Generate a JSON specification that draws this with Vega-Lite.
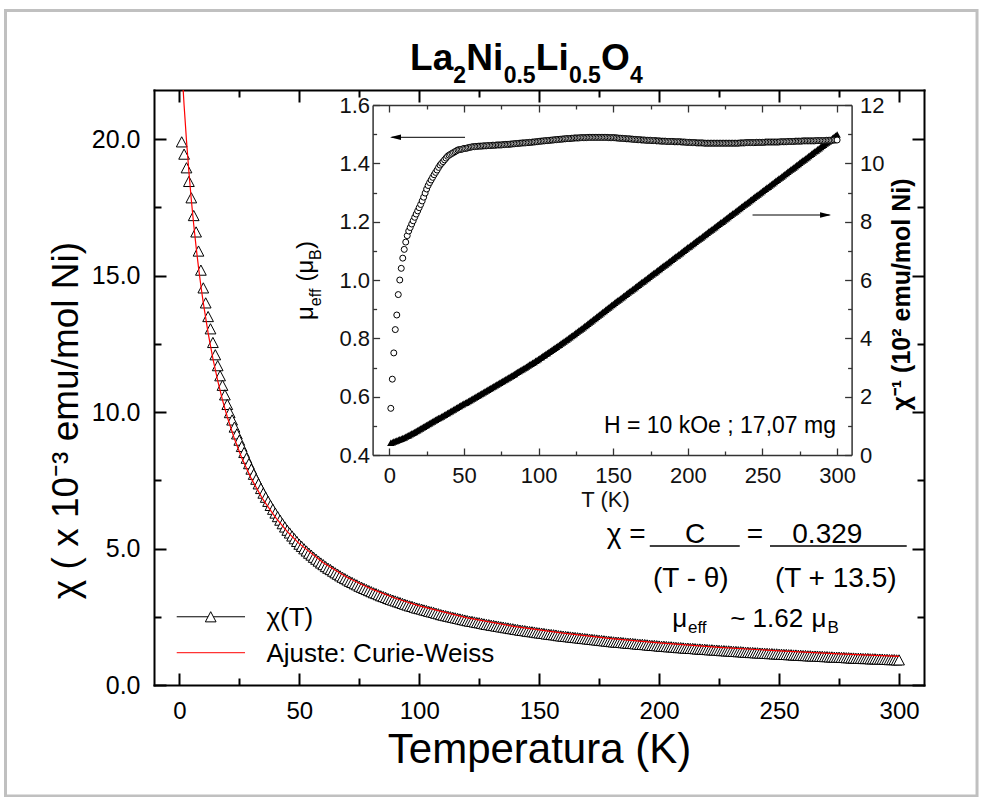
{
"$schema":"https://vega.github.io/schema/vega-lite/v6.json",
"width":770,"height":595,
"autosize":{"type":"none"},
"padding":{"left":154,"top":90,"right":58,"bottom":112},
"background":"white",
"config":{"view":{"stroke":null},"font":"Liberation Sans","text":{"font":"Liberation Sans","color":"black"}},
"datasets":{
"meas":[
{"T":1,"c":19.9,"m":0.56,"v":0.42},{"T":2,"c":19.45,"m":0.66,"v":0.44},{"T":3,"c":18.95,"m":0.75,"v":0.46},{"T":4,"c":18.45,"m":0.83,"v":0.48},{"T":5,"c":17.85,"m":0.88,"v":0.5},
{"T":6,"c":17.2,"m":0.95,"v":0.52},{"T":7,"c":16.6,"m":1.0,"v":0.54},{"T":8,"c":15.9,"m":1.04,"v":0.56},{"T":9,"c":15.2,"m":1.075,"v":0.58},{"T":10,"c":14.55,"m":1.105,"v":0.6},
{"T":11,"c":14.0,"m":1.13,"v":0.63},{"T":12,"c":13.5,"m":1.152,"v":0.66},{"T":13,"c":13.05,"m":1.168,"v":0.68},{"T":14,"c":12.55,"m":1.18,"v":0.71},{"T":15,"c":12.1,"m":1.192,"v":0.74},
{"T":16,"c":11.7,"m":1.203,"v":0.76},{"T":17,"c":11.33,"m":1.215,"v":0.79},{"T":18,"c":10.98,"m":1.226,"v":0.82},{"T":19,"c":10.63,"m":1.237,"v":0.85},{"T":20,"c":10.28,"m":1.248,"v":0.88},
{"T":21,"c":9.98,"m":1.259,"v":0.91},{"T":22,"c":9.71,"m":1.271,"v":0.94},{"T":23,"c":9.45,"m":1.284,"v":0.97},{"T":24,"c":9.2,"m":1.298,"v":1.0},{"T":25,"c":8.97,"m":1.312,"v":1.03},
{"T":26,"c":8.74,"m":1.324,"v":1.06},{"T":27,"c":8.52,"m":1.334,"v":1.09},{"T":28,"c":8.31,"m":1.343,"v":1.12},{"T":29,"c":8.11,"m":1.352,"v":1.15},{"T":30,"c":7.91,"m":1.361,"v":1.18},
{"T":31,"c":7.72,"m":1.369,"v":1.21},{"T":32,"c":7.54,"m":1.377,"v":1.24},{"T":33,"c":7.37,"m":1.386,"v":1.27},{"T":34,"c":7.2,"m":1.394,"v":1.29},{"T":35,"c":7.03,"m":1.4,"v":1.32},
{"T":36,"c":6.88,"m":1.406,"v":1.35},{"T":37,"c":6.73,"m":1.412,"v":1.38},{"T":38,"c":6.58,"m":1.418,"v":1.41},{"T":39,"c":6.44,"m":1.424,"v":1.44},{"T":40,"c":6.3,"m":1.428,"v":1.47},
{"T":41,"c":6.17,"m":1.431,"v":1.5},{"T":42,"c":6.04,"m":1.434,"v":1.53},{"T":43,"c":5.91,"m":1.437,"v":1.56},{"T":44,"c":5.79,"m":1.44,"v":1.59},{"T":45,"c":5.67,"m":1.443,"v":1.62},
{"T":46,"c":5.57,"m":1.446,"v":1.65},{"T":47,"c":5.46,"m":1.447,"v":1.68},{"T":48,"c":5.36,"m":1.448,"v":1.71},{"T":49,"c":5.26,"m":1.449,"v":1.74},{"T":50,"c":5.16,"m":1.451,"v":1.77},
{"T":51,"c":5.08,"m":1.451,"v":1.79},{"T":52,"c":4.99,"m":1.452,"v":1.82},{"T":53,"c":4.91,"m":1.454,"v":1.85},{"T":54,"c":4.83,"m":1.455,"v":1.88},{"T":55,"c":4.76,"m":1.456,"v":1.91},
{"T":56,"c":4.68,"m":1.457,"v":1.94},{"T":57,"c":4.61,"m":1.457,"v":1.97},{"T":58,"c":4.54,"m":1.458,"v":2.0},{"T":59,"c":4.47,"m":1.458,"v":2.03},{"T":60,"c":4.41,"m":1.459,"v":2.06},
{"T":61,"c":4.34,"m":1.459,"v":2.09},{"T":62,"c":4.28,"m":1.459,"v":2.12},{"T":63,"c":4.23,"m":1.46,"v":2.15},{"T":64,"c":4.17,"m":1.46,"v":2.18},{"T":65,"c":4.11,"m":1.46,"v":2.21},
{"T":66,"c":4.06,"m":1.461,"v":2.24},{"T":67,"c":4.0,"m":1.461,"v":2.27},{"T":68,"c":3.95,"m":1.461,"v":2.3},{"T":69,"c":3.9,"m":1.462,"v":2.33},{"T":70,"c":3.85,"m":1.462,"v":2.36},
{"T":71,"c":3.8,"m":1.462,"v":2.39},{"T":72,"c":3.76,"m":1.463,"v":2.42},{"T":73,"c":3.71,"m":1.463,"v":2.45},{"T":74,"c":3.67,"m":1.463,"v":2.48},{"T":75,"c":3.62,"m":1.463,"v":2.51},
{"T":76,"c":3.58,"m":1.464,"v":2.54},{"T":77,"c":3.54,"m":1.464,"v":2.57},{"T":78,"c":3.5,"m":1.465,"v":2.6},{"T":79,"c":3.46,"m":1.465,"v":2.63},{"T":80,"c":3.42,"m":1.465,"v":2.66},
{"T":81,"c":3.38,"m":1.466,"v":2.69},{"T":82,"c":3.35,"m":1.466,"v":2.72},{"T":83,"c":3.31,"m":1.467,"v":2.75},{"T":84,"c":3.27,"m":1.467,"v":2.78},{"T":85,"c":3.24,"m":1.468,"v":2.82},
{"T":86,"c":3.21,"m":1.468,"v":2.85},{"T":87,"c":3.17,"m":1.469,"v":2.88},{"T":88,"c":3.14,"m":1.469,"v":2.91},{"T":89,"c":3.11,"m":1.47,"v":2.94},{"T":90,"c":3.08,"m":1.47,"v":2.97},
{"T":91,"c":3.05,"m":1.47,"v":3.0},{"T":92,"c":3.02,"m":1.471,"v":3.03},{"T":93,"c":2.99,"m":1.471,"v":3.07},{"T":94,"c":2.96,"m":1.472,"v":3.1},{"T":95,"c":2.93,"m":1.472,"v":3.13},
{"T":96,"c":2.9,"m":1.473,"v":3.16},{"T":97,"c":2.88,"m":1.473,"v":3.19},{"T":98,"c":2.85,"m":1.474,"v":3.23},{"T":99,"c":2.82,"m":1.474,"v":3.26},{"T":100,"c":2.8,"m":1.475,"v":3.29},
{"T":101,"c":2.78,"m":1.476,"v":3.33},{"T":102,"c":2.75,"m":1.476,"v":3.36},{"T":103,"c":2.73,"m":1.477,"v":3.4},{"T":104,"c":2.7,"m":1.477,"v":3.43},{"T":105,"c":2.68,"m":1.478,"v":3.47},
{"T":106,"c":2.66,"m":1.478,"v":3.5},{"T":107,"c":2.63,"m":1.479,"v":3.54},{"T":108,"c":2.61,"m":1.479,"v":3.57},{"T":109,"c":2.58,"m":1.48,"v":3.61},{"T":110,"c":2.56,"m":1.48,"v":3.64},
{"T":111,"c":2.54,"m":1.481,"v":3.68},{"T":112,"c":2.52,"m":1.481,"v":3.71},{"T":113,"c":2.5,"m":1.482,"v":3.75},{"T":114,"c":2.48,"m":1.482,"v":3.78},{"T":115,"c":2.46,"m":1.483,"v":3.82},
{"T":116,"c":2.44,"m":1.483,"v":3.86},{"T":117,"c":2.42,"m":1.484,"v":3.89},{"T":118,"c":2.4,"m":1.484,"v":3.93},{"T":119,"c":2.38,"m":1.485,"v":3.96},{"T":120,"c":2.36,"m":1.485,"v":4.0},
{"T":121,"c":2.34,"m":1.485,"v":4.04},{"T":122,"c":2.33,"m":1.486,"v":4.08},{"T":123,"c":2.31,"m":1.486,"v":4.11},{"T":124,"c":2.29,"m":1.487,"v":4.15},{"T":125,"c":2.28,"m":1.487,"v":4.19},
{"T":126,"c":2.26,"m":1.487,"v":4.23},{"T":127,"c":2.24,"m":1.487,"v":4.27},{"T":128,"c":2.22,"m":1.488,"v":4.3},{"T":129,"c":2.21,"m":1.488,"v":4.34},{"T":130,"c":2.19,"m":1.488,"v":4.38},
{"T":131,"c":2.18,"m":1.488,"v":4.42},{"T":132,"c":2.16,"m":1.488,"v":4.46},{"T":133,"c":2.15,"m":1.489,"v":4.5},{"T":134,"c":2.13,"m":1.489,"v":4.54},{"T":135,"c":2.12,"m":1.489,"v":4.58},
{"T":136,"c":2.1,"m":1.489,"v":4.62},{"T":137,"c":2.09,"m":1.489,"v":4.66},{"T":138,"c":2.07,"m":1.489,"v":4.7},{"T":139,"c":2.06,"m":1.489,"v":4.74},{"T":140,"c":2.04,"m":1.489,"v":4.78},
{"T":141,"c":2.03,"m":1.489,"v":4.82},{"T":142,"c":2.01,"m":1.489,"v":4.86},{"T":143,"c":2.0,"m":1.489,"v":4.9},{"T":144,"c":1.99,"m":1.489,"v":4.94},{"T":145,"c":1.97,"m":1.489,"v":4.98},
{"T":146,"c":1.96,"m":1.489,"v":5.02},{"T":147,"c":1.95,"m":1.488,"v":5.06},{"T":148,"c":1.94,"m":1.488,"v":5.1},{"T":149,"c":1.92,"m":1.488,"v":5.14},{"T":150,"c":1.91,"m":1.488,"v":5.18},
{"T":151,"c":1.9,"m":1.488,"v":5.22},{"T":152,"c":1.89,"m":1.487,"v":5.26},{"T":153,"c":1.87,"m":1.487,"v":5.3},{"T":154,"c":1.86,"m":1.486,"v":5.33},{"T":155,"c":1.85,"m":1.486,"v":5.37},
{"T":156,"c":1.84,"m":1.486,"v":5.41},{"T":157,"c":1.83,"m":1.485,"v":5.45},{"T":158,"c":1.81,"m":1.485,"v":5.49},{"T":159,"c":1.8,"m":1.484,"v":5.53},{"T":160,"c":1.79,"m":1.484,"v":5.57},
{"T":161,"c":1.78,"m":1.484,"v":5.61},{"T":162,"c":1.77,"m":1.483,"v":5.64},{"T":163,"c":1.76,"m":1.483,"v":5.68},{"T":164,"c":1.75,"m":1.482,"v":5.72},{"T":165,"c":1.74,"m":1.482,"v":5.76},
{"T":166,"c":1.73,"m":1.481,"v":5.8},{"T":167,"c":1.72,"m":1.481,"v":5.84},{"T":168,"c":1.71,"m":1.481,"v":5.88},{"T":169,"c":1.7,"m":1.48,"v":5.92},{"T":170,"c":1.69,"m":1.48,"v":5.95},
{"T":171,"c":1.68,"m":1.48,"v":5.99},{"T":172,"c":1.67,"m":1.479,"v":6.03},{"T":173,"c":1.66,"m":1.479,"v":6.07},{"T":174,"c":1.65,"m":1.479,"v":6.11},{"T":175,"c":1.64,"m":1.479,"v":6.15},
{"T":176,"c":1.63,"m":1.478,"v":6.19},{"T":177,"c":1.62,"m":1.478,"v":6.23},{"T":178,"c":1.61,"m":1.478,"v":6.26},{"T":179,"c":1.6,"m":1.477,"v":6.3},{"T":180,"c":1.59,"m":1.477,"v":6.34},
{"T":181,"c":1.58,"m":1.477,"v":6.38},{"T":182,"c":1.57,"m":1.476,"v":6.42},{"T":183,"c":1.57,"m":1.476,"v":6.46},{"T":184,"c":1.56,"m":1.476,"v":6.5},{"T":185,"c":1.55,"m":1.476,"v":6.53},
{"T":186,"c":1.54,"m":1.475,"v":6.57},{"T":187,"c":1.53,"m":1.475,"v":6.61},{"T":188,"c":1.53,"m":1.475,"v":6.65},{"T":189,"c":1.52,"m":1.475,"v":6.69},{"T":190,"c":1.51,"m":1.475,"v":6.73},
{"T":191,"c":1.5,"m":1.474,"v":6.77},{"T":192,"c":1.49,"m":1.474,"v":6.81},{"T":193,"c":1.49,"m":1.474,"v":6.84},{"T":194,"c":1.48,"m":1.474,"v":6.88},{"T":195,"c":1.47,"m":1.474,"v":6.92},
{"T":196,"c":1.46,"m":1.473,"v":6.96},{"T":197,"c":1.45,"m":1.473,"v":7.0},{"T":198,"c":1.45,"m":1.473,"v":7.04},{"T":199,"c":1.44,"m":1.472,"v":7.08},{"T":200,"c":1.43,"m":1.472,"v":7.12},
{"T":201,"c":1.42,"m":1.472,"v":7.15},{"T":202,"c":1.42,"m":1.471,"v":7.19},{"T":203,"c":1.41,"m":1.471,"v":7.23},{"T":204,"c":1.4,"m":1.471,"v":7.27},{"T":205,"c":1.4,"m":1.471,"v":7.31},
{"T":206,"c":1.39,"m":1.47,"v":7.35},{"T":207,"c":1.38,"m":1.47,"v":7.39},{"T":208,"c":1.37,"m":1.47,"v":7.42},{"T":209,"c":1.37,"m":1.47,"v":7.46},{"T":210,"c":1.36,"m":1.47,"v":7.5},
{"T":211,"c":1.35,"m":1.469,"v":7.54},{"T":212,"c":1.35,"m":1.469,"v":7.58},{"T":213,"c":1.34,"m":1.469,"v":7.62},{"T":214,"c":1.34,"m":1.469,"v":7.66},{"T":215,"c":1.33,"m":1.469,"v":7.7},
{"T":216,"c":1.32,"m":1.469,"v":7.73},{"T":217,"c":1.32,"m":1.469,"v":7.77},{"T":218,"c":1.31,"m":1.469,"v":7.81},{"T":219,"c":1.31,"m":1.469,"v":7.85},{"T":220,"c":1.3,"m":1.469,"v":7.89},
{"T":221,"c":1.29,"m":1.469,"v":7.93},{"T":222,"c":1.29,"m":1.469,"v":7.97},{"T":223,"c":1.28,"m":1.469,"v":8.0},{"T":224,"c":1.28,"m":1.469,"v":8.04},{"T":225,"c":1.27,"m":1.469,"v":8.08},
{"T":226,"c":1.26,"m":1.469,"v":8.12},{"T":227,"c":1.26,"m":1.469,"v":8.16},{"T":228,"c":1.25,"m":1.469,"v":8.2},{"T":229,"c":1.25,"m":1.469,"v":8.24},{"T":230,"c":1.24,"m":1.469,"v":8.28},
{"T":231,"c":1.23,"m":1.469,"v":8.31},{"T":232,"c":1.23,"m":1.469,"v":8.35},{"T":233,"c":1.22,"m":1.469,"v":8.39},{"T":234,"c":1.22,"m":1.469,"v":8.43},{"T":235,"c":1.21,"m":1.47,"v":8.47},
{"T":236,"c":1.2,"m":1.47,"v":8.51},{"T":237,"c":1.2,"m":1.47,"v":8.55},{"T":238,"c":1.19,"m":1.47,"v":8.59},{"T":239,"c":1.19,"m":1.471,"v":8.62},{"T":240,"c":1.18,"m":1.471,"v":8.66},
{"T":241,"c":1.18,"m":1.471,"v":8.7},{"T":242,"c":1.17,"m":1.471,"v":8.74},{"T":243,"c":1.17,"m":1.471,"v":8.78},{"T":244,"c":1.16,"m":1.471,"v":8.82},{"T":245,"c":1.16,"m":1.471,"v":8.86},
{"T":246,"c":1.15,"m":1.472,"v":8.9},{"T":247,"c":1.15,"m":1.472,"v":8.93},{"T":248,"c":1.14,"m":1.472,"v":8.97},{"T":249,"c":1.14,"m":1.472,"v":9.01},{"T":250,"c":1.13,"m":1.472,"v":9.05},
{"T":251,"c":1.13,"m":1.472,"v":9.09},{"T":252,"c":1.12,"m":1.473,"v":9.13},{"T":253,"c":1.12,"m":1.473,"v":9.17},{"T":254,"c":1.11,"m":1.473,"v":9.2},{"T":255,"c":1.11,"m":1.473,"v":9.24},
{"T":256,"c":1.1,"m":1.473,"v":9.28},{"T":257,"c":1.1,"m":1.473,"v":9.32},{"T":258,"c":1.09,"m":1.473,"v":9.36},{"T":259,"c":1.09,"m":1.473,"v":9.4},{"T":260,"c":1.08,"m":1.473,"v":9.44},
{"T":261,"c":1.08,"m":1.473,"v":9.48},{"T":262,"c":1.07,"m":1.474,"v":9.51},{"T":263,"c":1.07,"m":1.474,"v":9.55},{"T":264,"c":1.06,"m":1.474,"v":9.59},{"T":265,"c":1.06,"m":1.474,"v":9.63},
{"T":266,"c":1.06,"m":1.474,"v":9.67},{"T":267,"c":1.05,"m":1.475,"v":9.71},{"T":268,"c":1.05,"m":1.475,"v":9.75},{"T":269,"c":1.04,"m":1.475,"v":9.79},{"T":270,"c":1.04,"m":1.475,"v":9.82},
{"T":271,"c":1.03,"m":1.475,"v":9.86},{"T":272,"c":1.03,"m":1.476,"v":9.9},{"T":273,"c":1.02,"m":1.476,"v":9.94},{"T":274,"c":1.02,"m":1.476,"v":9.98},{"T":275,"c":1.02,"m":1.476,"v":10.02},
{"T":276,"c":1.01,"m":1.476,"v":10.06},{"T":277,"c":1.01,"m":1.477,"v":10.1},{"T":278,"c":1.0,"m":1.477,"v":10.13},{"T":279,"c":1.0,"m":1.477,"v":10.17},{"T":280,"c":0.99,"m":1.477,"v":10.21},
{"T":281,"c":0.99,"m":1.477,"v":10.25},{"T":282,"c":0.98,"m":1.477,"v":10.29},{"T":283,"c":0.98,"m":1.477,"v":10.33},{"T":284,"c":0.98,"m":1.477,"v":10.37},{"T":285,"c":0.97,"m":1.477,"v":10.41},
{"T":286,"c":0.97,"m":1.478,"v":10.44},{"T":287,"c":0.97,"m":1.478,"v":10.48},{"T":288,"c":0.96,"m":1.478,"v":10.52},{"T":289,"c":0.96,"m":1.478,"v":10.56},{"T":290,"c":0.96,"m":1.478,"v":10.6},
{"T":291,"c":0.95,"m":1.478,"v":10.64},{"T":292,"c":0.95,"m":1.478,"v":10.68},{"T":293,"c":0.95,"m":1.479,"v":10.71},{"T":294,"c":0.94,"m":1.479,"v":10.75},{"T":295,"c":0.94,"m":1.479,"v":10.79},
{"T":296,"c":0.93,"m":1.479,"v":10.83},{"T":297,"c":0.93,"m":1.479,"v":10.87},{"T":298,"c":0.93,"m":1.48,"v":10.91},{"T":299,"c":0.92,"m":1.48,"v":10.95},{"T":300,"c":0.92,"m":1.48,"v":10.99}
],
"fit":[
{"T":1,"f":22.69},{"T":2,"f":21.23},{"T":3,"f":19.94},{"T":4,"f":18.8},{"T":5,"f":17.78},{"T":6,"f":16.87},{"T":7,"f":16.05},{"T":8,"f":15.3},{"T":9,"f":14.62},{"T":10,"f":14.0},
{"T":12,"f":12.9},{"T":14,"f":11.96},{"T":16,"f":11.15},{"T":18,"f":10.44},{"T":20,"f":9.82},{"T":23,"f":9.01},{"T":26,"f":8.33},{"T":30,"f":7.56},{"T":35,"f":6.78},{"T":40,"f":6.15},
{"T":45,"f":5.62},{"T":50,"f":5.18},{"T":60,"f":4.48},{"T":70,"f":3.94},{"T":80,"f":3.52},{"T":90,"f":3.18},{"T":100,"f":2.9},{"T":120,"f":2.46},{"T":140,"f":2.14},{"T":160,"f":1.9},
{"T":180,"f":1.7},{"T":200,"f":1.54},{"T":225,"f":1.38},{"T":250,"f":1.25},{"T":275,"f":1.14},{"T":300,"f":1.05}
]
},
"layer":[
{
"data":{"values":[{}]},
"resolve":{"axis":{"x":"independent","y":"independent"}},
"layer":[
{"mark":{"type":"rect","fill":"transparent","stroke":"#c0c0c0","strokeWidth":3,"clip":false},
 "encoding":{"x":{"datum":-72.45,"axis":null},"x2":{"datum":332.5},"y":{"datum":24.71,"axis":null},"y2":{"datum":-4.07}}},
{"data":{"name":"meas"},
 "mark":{"type":"point","shape":"M0,-0.95L1,0.95L-1,0.95Z","size":115,"filled":true,"fill":"white","stroke":"black","strokeWidth":1,"opacity":1},
 "encoding":{
  "x":{"field":"T","type":"quantitative","scale":{"domain":[-10.55,310.4],"nice":false,"zero":false},
   "axis":{"orient":"bottom","values":[0,25,50,75,100,125,150,175,200,225,250,275,300],
    "tickSize":{"condition":{"test":"datum.value % 50 === 0","value":-12},"value":-7},
    "tickWidth":2,"tickColor":"black","domainWidth":2,"domainColor":"black","domainCap":"square","grid":false,
    "labelExpr":"datum.value % 50 === 0 ? datum.label : ''","labelFont":"Liberation Sans","labelFontSize":24,"labelColor":"black","labelPadding":26,"labelOverlap":false,"labelFlush":false,"labelBound":false,
    "title":"Temperatura (K)","titleFont":"Liberation Sans","titleFontSize":42,"titleFontWeight":"normal","titleColor":"black","titleX":385,"titleY":77,"titleBaseline":"alphabetic","titleAlign":"center"}},
  "y":{"field":"c","type":"quantitative","scale":{"domain":[0,21.8],"nice":false,"zero":false},
   "axis":{"orient":"left","values":[0,2.5,5,7.5,10,12.5,15,17.5,20],
    "tickSize":{"condition":{"test":"datum.value % 5 === 0","value":-12},"value":-7},
    "tickWidth":2,"tickColor":"black","domainWidth":2,"domainColor":"black","domainCap":"square","grid":false,
    "labelExpr":"datum.value % 5 === 0 ? format(datum.value, '.1f') : ''","labelFont":"Liberation Sans","labelFontSize":25,"labelColor":"black","labelPadding":26,"labelOverlap":false,"labelFlush":false,"labelBound":false,
    "title":"χ ( x 10⁻³  emu/mol Ni)","titleFont":"Liberation Sans","titleFontSize":37,"titleFontWeight":"normal","titleColor":"black","titleAngle":270,"titleX":-77,"titleY":330,"titleBaseline":"alphabetic","titleAlign":"center"}}
 }},
{"data":{"name":"fit"},
 "mark":{"type":"line","color":"#ff0000","strokeWidth":1.2,"clip":true},
 "encoding":{
  "x":{"field":"T","type":"quantitative",
   "axis":{"orient":"top","values":[0,25,50,75,100,125,150,175,200,225,250,275,300],
    "tickSize":{"condition":{"test":"datum.value % 50 === 0","value":-12},"value":-7},
    "tickWidth":2,"tickColor":"black","domainWidth":2,"domainColor":"black","domainCap":"square","grid":false,"labels":false,"title":null}},
  "y":{"field":"f","type":"quantitative",
   "axis":{"orient":"right","values":[0,2.5,5,7.5,10,12.5,15,17.5,20],
    "tickSize":{"condition":{"test":"datum.value % 5 === 0","value":-12},"value":-7},
    "tickWidth":2,"tickColor":"black","domainWidth":2,"domainColor":"black","domainCap":"square","grid":false,"labels":false,"title":null}}
 }},
{"mark":{"type":"rule","color":"black","strokeWidth":1},
 "encoding":{"x":{"datum":-1.08,"axis":null},"x2":{"datum":27.39},"y":{"datum":2.5,"axis":null}}},
{"mark":{"type":"point","shape":"M0,-0.95L1,0.95L-1,0.95Z","size":115,"filled":true,"fill":"white","stroke":"black","strokeWidth":1,"opacity":1},
 "encoding":{"x":{"datum":13.09,"axis":null},"y":{"datum":2.5,"axis":null}}},
{"mark":{"type":"text","text":"χ(T)","fontSize":26,"align":"left","baseline":"alphabetic"},
 "encoding":{"x":{"datum":36.3,"axis":null},"y":{"datum":2.162,"axis":null}}},
{"mark":{"type":"rule","color":"#ff0000","strokeWidth":1},
 "encoding":{"x":{"datum":-1.08,"axis":null},"x2":{"datum":27.39},"y":{"datum":1.183,"axis":null}}},
{"mark":{"type":"text","text":"Ajuste: Curie-Weiss","fontSize":26,"align":"left","baseline":"alphabetic"},
 "encoding":{"x":{"datum":36.3,"axis":null},"y":{"datum":0.843,"axis":null}}},
{"mark":{"type":"text","text":"La","fontSize":37,"fontWeight":"bold","align":"left","baseline":"alphabetic"},
 "encoding":{"x":{"datum":96.2,"axis":null},"y":{"datum":22.53,"axis":null}}},
{"mark":{"type":"text","text":"2","fontSize":23,"fontWeight":"bold","align":"left","baseline":"alphabetic"},
 "encoding":{"x":{"datum":114.2,"axis":null},"y":{"datum":22.06,"axis":null}}},
{"mark":{"type":"text","text":"Ni","fontSize":37,"fontWeight":"bold","align":"left","baseline":"alphabetic"},
 "encoding":{"x":{"datum":119.6,"axis":null},"y":{"datum":22.53,"axis":null}}},
{"mark":{"type":"text","text":"0.5","fontSize":23,"fontWeight":"bold","align":"left","baseline":"alphabetic"},
 "encoding":{"x":{"datum":135.2,"axis":null},"y":{"datum":22.06,"axis":null}}},
{"mark":{"type":"text","text":"Li","fontSize":37,"fontWeight":"bold","align":"left","baseline":"alphabetic"},
 "encoding":{"x":{"datum":148.6,"axis":null},"y":{"datum":22.53,"axis":null}}},
{"mark":{"type":"text","text":"0.5","fontSize":23,"fontWeight":"bold","align":"left","baseline":"alphabetic"},
 "encoding":{"x":{"datum":162.4,"axis":null},"y":{"datum":22.06,"axis":null}}},
{"mark":{"type":"text","text":"O","fontSize":37,"fontWeight":"bold","align":"left","baseline":"alphabetic"},
 "encoding":{"x":{"datum":175.8,"axis":null},"y":{"datum":22.53,"axis":null}}},
{"mark":{"type":"text","text":"4","fontSize":23,"fontWeight":"bold","align":"left","baseline":"alphabetic"},
 "encoding":{"x":{"datum":187.9,"axis":null},"y":{"datum":22.06,"axis":null}}},
{"mark":{"type":"text","text":"μ","fontSize":24,"angle":270,"align":"left","baseline":"alphabetic"},
 "encoding":{"x":{"datum":55.7,"axis":null},"y":{"datum":13.37,"axis":null}}},
{"mark":{"type":"text","text":"eff","fontSize":16,"angle":270,"align":"left","baseline":"alphabetic"},
 "encoding":{"x":{"datum":59.07,"axis":null},"y":{"datum":13.88,"axis":null}}},
{"mark":{"type":"text","text":"(μ","fontSize":24,"angle":270,"align":"left","baseline":"alphabetic"},
 "encoding":{"x":{"datum":55.7,"axis":null},"y":{"datum":14.78,"axis":null}}},
{"mark":{"type":"text","text":"B","fontSize":16,"angle":270,"align":"left","baseline":"alphabetic"},
 "encoding":{"x":{"datum":59.07,"axis":null},"y":{"datum":15.57,"axis":null}}},
{"mark":{"type":"text","text":")","fontSize":24,"angle":270,"align":"left","baseline":"alphabetic"},
 "encoding":{"x":{"datum":55.7,"axis":null},"y":{"datum":15.97,"axis":null}}},
{"mark":{"type":"text","text":"H = 10 kOe ;  17,07 mg","fontSize":23,"align":"right","baseline":"alphabetic"},
 "encoding":{"x":{"datum":273.7,"axis":null},"y":{"datum":9.22,"axis":null}}},
{"mark":{"type":"rule","color":"black","strokeWidth":1},
 "encoding":{"x":{"datum":88.5,"axis":null},"x2":{"datum":119.09},"y":{"datum":20.067,"axis":null}}},
{"mark":{"type":"point","shape":"M0,0L2,-0.5L2,0.5Z","size":121,"filled":true,"color":"black","opacity":1},
 "encoding":{"x":{"datum":87.83,"axis":null},"y":{"datum":20.067,"axis":null}}},
{"mark":{"type":"rule","color":"black","strokeWidth":1},
 "encoding":{"x":{"datum":238.93,"axis":null},"x2":{"datum":271.0},"y":{"datum":17.22,"axis":null}}},
{"mark":{"type":"point","shape":"M0,0L-2,-0.5L-2,0.5Z","size":121,"filled":true,"color":"black","opacity":1},
 "encoding":{"x":{"datum":271.66,"axis":null},"y":{"datum":17.22,"axis":null}}},
{"mark":{"type":"text","text":"χ =","fontSize":28,"align":"left","baseline":"alphabetic"},
 "encoding":{"x":{"datum":178.16,"axis":null},"y":{"datum":5.203,"axis":null}}},
{"mark":{"type":"text","text":"C","fontSize":28,"align":"center","baseline":"alphabetic"},
 "encoding":{"x":{"datum":214.96,"axis":null},"y":{"datum":5.203,"axis":null}}},
{"mark":{"type":"rule","color":"black","strokeWidth":1.5},
 "encoding":{"x":{"datum":196.1,"axis":null},"x2":{"datum":233.6},"y":{"datum":5.093,"axis":null}}},
{"mark":{"type":"text","text":"=","fontSize":28,"align":"center","baseline":"alphabetic"},
 "encoding":{"x":{"datum":239.9,"axis":null},"y":{"datum":5.203,"axis":null}}},
{"mark":{"type":"text","text":"0.329","fontSize":28,"align":"center","baseline":"alphabetic"},
 "encoding":{"x":{"datum":270.1,"axis":null},"y":{"datum":5.203,"axis":null}}},
{"mark":{"type":"rule","color":"black","strokeWidth":1.5},
 "encoding":{"x":{"datum":246.2,"axis":null},"x2":{"datum":303.2},"y":{"datum":5.093,"axis":null}}},
{"mark":{"type":"text","text":"(T - θ)","fontSize":28,"align":"center","baseline":"alphabetic"},
 "encoding":{"x":{"datum":213.2,"axis":null},"y":{"datum":3.59,"axis":null}}},
{"mark":{"type":"text","text":"(T + 13.5)","fontSize":28,"align":"center","baseline":"alphabetic"},
 "encoding":{"x":{"datum":273.6,"axis":null},"y":{"datum":3.59,"axis":null}}},
{"mark":{"type":"text","text":"μ","fontSize":26,"align":"left","baseline":"alphabetic"},
 "encoding":{"x":{"datum":205.5,"axis":null},"y":{"datum":2.136,"axis":null}}},
{"mark":{"type":"text","text":"eff","fontSize":17,"align":"left","baseline":"alphabetic"},
 "encoding":{"x":{"datum":212.0,"axis":null},"y":{"datum":1.894,"axis":null}}},
{"mark":{"type":"text","text":"~ 1.62","fontSize":26,"align":"left","baseline":"alphabetic"},
 "encoding":{"x":{"datum":229.6,"axis":null},"y":{"datum":2.136,"axis":null}}},
{"mark":{"type":"text","text":"μ","fontSize":26,"align":"left","baseline":"alphabetic"},
 "encoding":{"x":{"datum":263.5,"axis":null},"y":{"datum":2.136,"axis":null}}},
{"mark":{"type":"text","text":"B","fontSize":17,"align":"left","baseline":"alphabetic"},
 "encoding":{"x":{"datum":270.2,"axis":null},"y":{"datum":1.894,"axis":null}}}
]
},
{
"data":{"name":"meas"},
"resolve":{"scale":{"y":"independent"},"axis":{"x":"independent","y":"independent"}},
"layer":[
{"mark":{"type":"point","shape":"triangle-up","size":55,"filled":true,"color":"black","opacity":1},
 "encoding":{
  "x":{"field":"T","type":"quantitative","scale":{"domain":[-11.2,309.7],"range":[218.6,697.6],"nice":false,"zero":false},
   "axis":{"orient":"top","offset":-15,"values":[0,25,50,75,100,125,150,175,200,225,250,275,300],
    "tickSize":{"condition":{"test":"datum.value % 50 === 0","value":-7},"value":-4},
    "tickWidth":1.3,"tickColor":"#333333","domainWidth":1.5,"domainColor":"#333333","grid":false,"labels":false,"title":null}},
  "y":{"field":"v","type":"quantitative","scale":{"domain":[0,12],"range":[365,15],"nice":false,"zero":false},
   "axis":{"orient":"right","offset":-72.4,"values":[0,1,2,3,4,5,6,7,8,9,10,11,12],
    "tickSize":{"condition":{"test":"datum.value % 2 === 0","value":-7},"value":-4},
    "tickWidth":1.3,"tickColor":"#333333","domainWidth":1.5,"domainColor":"#333333","grid":false,
    "labelExpr":"datum.value % 2 === 0 ? datum.label : ''","labelFont":"Liberation Sans","labelFontSize":22,"labelColor":"#111111","labelPadding":15,"labelOverlap":false,"labelFlush":false,"labelBound":false,
    "title":"χ⁻¹ (10² emu/mol Ni)","titleFont":"Liberation Sans","titleFontSize":25,"titleFontWeight":"bold","titleColor":"black","titleAngle":270,"titleX":58,"titleY":204,"titleBaseline":"alphabetic","titleAlign":"center"}}
 }},
{"mark":{"type":"point","shape":"circle","size":36,"filled":true,"fill":"white","stroke":"black","strokeWidth":1,"opacity":1},
 "encoding":{
  "x":{"field":"T","type":"quantitative",
   "axis":{"orient":"bottom","offset":-230,"values":[0,25,50,75,100,125,150,175,200,225,250,275,300],
    "tickSize":{"condition":{"test":"datum.value % 50 === 0","value":-7},"value":-4},
    "tickWidth":1.3,"tickColor":"#333333","domainWidth":1.5,"domainColor":"#333333","grid":false,
    "labelExpr":"datum.value % 50 === 0 ? datum.label : ''","labelFont":"Liberation Sans","labelFontSize":22,"labelColor":"#111111","labelPadding":17,"labelOverlap":false,"labelFlush":false,"labelBound":false,
    "title":"T (K)","titleFont":"Liberation Sans","titleFontSize":22,"titleFontWeight":"normal","titleColor":"#111111","titleX":451,"titleY":51,"titleBaseline":"alphabetic","titleAlign":"center"}},
  "y":{"field":"m","type":"quantitative","scale":{"domain":[0.4,1.6],"range":[365,15],"nice":false,"zero":false},
   "axis":{"orient":"left","offset":-218.6,"values":[0.4,0.5,0.6,0.7,0.8,0.9,1.0,1.1,1.2,1.3,1.4,1.5,1.6],
    "tickSize":{"condition":{"test":"round(datum.value*10) % 2 === 0","value":-7},"value":-4},
    "tickWidth":1.3,"tickColor":"#333333","domainWidth":1.5,"domainColor":"#333333","grid":false,
    "labelExpr":"round(datum.value*10) % 2 === 0 ? format(datum.value, '.1f') : ''","labelFont":"Liberation Sans","labelFontSize":22,"labelColor":"#111111","labelPadding":10,"labelOverlap":false,"labelFlush":false,"labelBound":false,
    "title":null}}
 }}
]
}
],
"resolve":{"scale":{"x":"independent","y":"independent"},"axis":{"x":"independent","y":"independent"}}
}
